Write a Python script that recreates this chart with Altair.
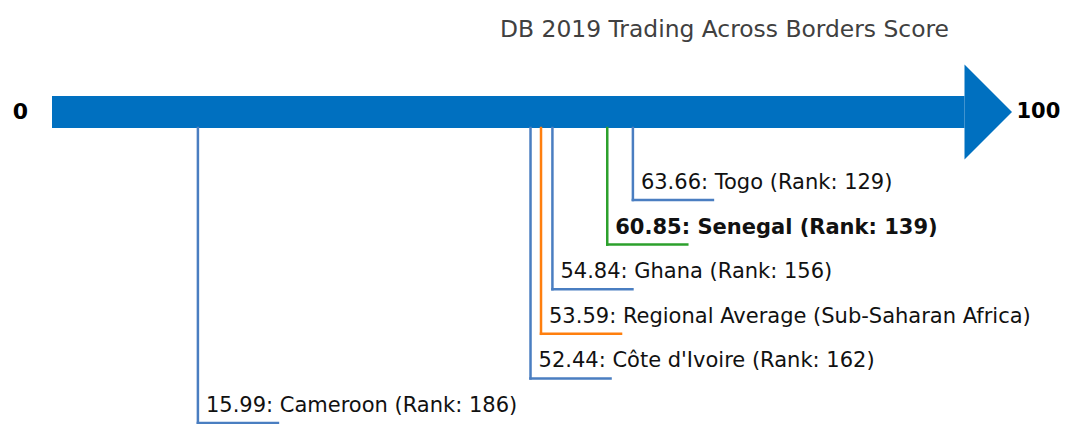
import altair as alt
import pandas as pd

# ---- data ----
names = ["Togo", "Senegal", "Ghana", "Regional Average (Sub-Saharan Africa)", "Côte d'Ivoire", "Cameroon"]
scores = [63.66, 60.85, 54.84, 53.59, 52.44, 15.99]
ranks = [129, 139, 156, None, 162, 186]
kinds = ["peer", "focus", "peer", "regional", "peer", "peer"]
end_values = [0, 100]
title_text = "DB 2019 Trading Across Borders Score"

labels = []
for n, s, r in zip(names, scores, ranks):
    if r is None:
        labels.append(f"{s:.2f}: {n}")
    else:
        labels.append(f"{s:.2f}: {n} (Rank: {r})")

df = pd.DataFrame({
    "name": names,
    "score": scores,
    "kind": kinds,
    "label": labels,
    "level": list(range(1, len(names) + 1)),
})
ends = pd.DataFrame({"v": end_values, "t": [str(v) for v in end_values]})
shaft = pd.DataFrame({"start": [end_values[0]], "end": [end_values[1]]})

# ---- styling ----
FONT = "DejaVu Sans"
ARROW = "#0070c0"
xs = alt.Scale(domain=[0, 100], range=[44, 956.5])
ys = alt.Scale(domain=[1, 6], range=[192, 415])
cs = alt.Scale(domain=["peer", "focus", "regional"], range=["#4a7ec1", "#2ca02c", "#ff7f0e"])
SHAFT_TOP, SHAFT_BOTTOM = 88, 120
LEADER = 8.77  # horizontal leader length in score units

shaft_layer = alt.Chart(shaft).mark_rect(color=ARROW).encode(
    x=alt.X("start:Q", scale=xs, axis=None),
    x2="end:Q",
    y=alt.value(SHAFT_TOP),
    y2=alt.value(SHAFT_BOTTOM),
)

head_layer = alt.Chart(shaft).mark_point(
    shape="M0,-1L1,0L0,1Z", filled=True, size=9025, color=ARROW, opacity=1, strokeWidth=0
).encode(
    x=alt.X("end:Q", scale=xs, axis=None),
    y=alt.value((SHAFT_TOP + SHAFT_BOTTOM) / 2),
)

zero_layer = alt.Chart(ends).transform_filter("datum.v == 0").mark_text(
    font=FONT, fontSize=22, fontWeight="bold", color="black", align="center", baseline="middle", dx=-31.5
).encode(
    x=alt.X("v:Q", scale=xs, axis=None),
    y=alt.value((SHAFT_TOP + SHAFT_BOTTOM) / 2),
    text="t:N",
)

hundred_layer = alt.Chart(ends).transform_filter("datum.v == 100").mark_text(
    font=FONT, fontSize=21, fontWeight="bold", color="black", align="left", baseline="middle", dx=52
).encode(
    x=alt.X("v:Q", scale=xs, axis=None),
    y=alt.value((SHAFT_TOP + SHAFT_BOTTOM) / 2),
    text="t:N",
)

vert = alt.Chart(df).mark_rule(strokeWidth=2.5, strokeCap="square").encode(
    x=alt.X("score:Q", scale=xs, axis=None),
    y=alt.Y("level:Q", scale=ys, axis=None),
    y2=alt.value(SHAFT_BOTTOM),
    color=alt.Color("kind:N", scale=cs, legend=None),
)

horiz = alt.Chart(df).transform_calculate(x2=f"datum.score + {LEADER}").mark_rule(
    strokeWidth=2.5, strokeCap="square"
).encode(
    x=alt.X("score:Q", scale=xs, axis=None),
    x2="x2:Q",
    y=alt.Y("level:Q", scale=ys, axis=None),
    color=alt.Color("kind:N", scale=cs, legend=None),
)

txt_normal = alt.Chart(df).transform_filter("datum.kind != 'focus'").mark_text(
    font=FONT, fontSize=21, color="#111111", align="left", baseline="alphabetic", dx=8, dy=-11
).encode(
    x=alt.X("score:Q", scale=xs, axis=None),
    y=alt.Y("level:Q", scale=ys, axis=None),
    text="label:N",
)

txt_bold = alt.Chart(df).transform_filter("datum.kind == 'focus'").mark_text(
    font=FONT, fontSize=21, fontWeight="bold", color="#111111", align="left", baseline="alphabetic", dx=8, dy=-11
).encode(
    x=alt.X("score:Q", scale=xs, axis=None),
    y=alt.Y("level:Q", scale=ys, axis=None),
    text="label:N",
)

title_layer = alt.Chart(pd.DataFrame({"t": [title_text]})).mark_text(
    font=FONT, fontSize=23.4, color="#404040", align="center", baseline="alphabetic"
).encode(
    x=alt.value(716.5),
    y=alt.value(29),
    text="t:N",
)

chart = alt.layer(
    shaft_layer, head_layer, zero_layer, hundred_layer, vert, horiz, txt_normal, txt_bold, title_layer
).properties(
    width=1055, height=416, autosize="none", padding=0
).configure_view(stroke=None)

chart.save("out.html", embed_options={"renderer": "svg", "actions": False})
